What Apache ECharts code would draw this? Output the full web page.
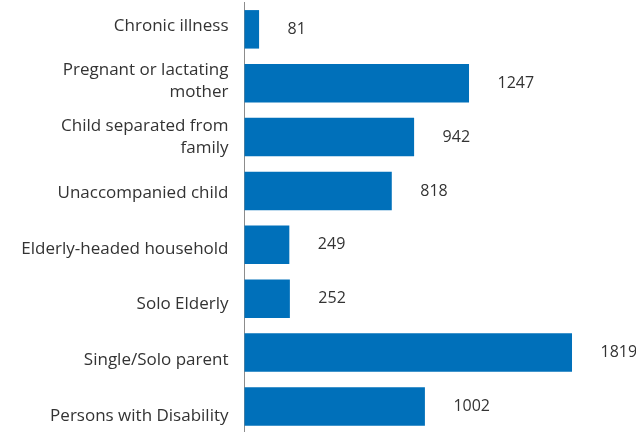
<!DOCTYPE html>
<html><head><meta charset="utf-8">
<script src="https://cdn.jsdelivr.net/npm/echarts@6/dist/echarts.min.js"></script>
<style>html,body{margin:0;padding:0;background:#fff}#c{width:636px;height:432px}</style>
</head><body><div id="c"></div>
<script>
const categories = ["Chronic illness", "Pregnant or lactating\nmother", "Child separated from\nfamily", "Unaccompanied child", "Elderly-headed household", "Solo Elderly", "Single/Solo parent", "Persons with Disability"];
const values = [81, 1247, 942, 818, 249, 252, 1819, 1002];

const chart = echarts.init(document.getElementById('c'));
chart.setOption({
  animation: false,
  grid: [
    {left: 244.5, right: 31.4, top: 2.4, height: 431, outerBoundsMode: 'none'},
    {left: 244.5, right: 31.4, top: -2, height: 446, outerBoundsMode: 'none'}
  ],
  xAxis: [
    {type: 'value', min: 0, max: 2000, show: false, gridIndex: 0},
    {type: 'value', min: 0, max: 2000, show: false, gridIndex: 1}
  ],
  yAxis: [{
    type: 'category', data: categories, inverse: true, gridIndex: 0,
    axisLine: {show: true, lineStyle: {color: '#8c8c8c', width: 1}},
    axisTick: {show: false},
    axisLabel: {show: false}
  }, {
    type: 'category', data: categories, inverse: true, gridIndex: 1,
    axisLine: {show: false}, axisTick: {show: false}, splitLine: {show: false},
    axisLabel: {color: '#333', fontFamily: 'Open Sans', fontSize: 17, margin: 16, lineHeight: 22, align: 'right'}
  }],
  series: [{
    type: 'bar', data: values, barWidth: 38.5, xAxisIndex: 0, yAxisIndex: 0,
    itemStyle: {color: '#0070BA'},
    label: {show: true, position: 'right', distance: 28.5, color: '#333', fontFamily: 'Open Sans', fontSize: 16}
  }]
});
</script></body></html>
